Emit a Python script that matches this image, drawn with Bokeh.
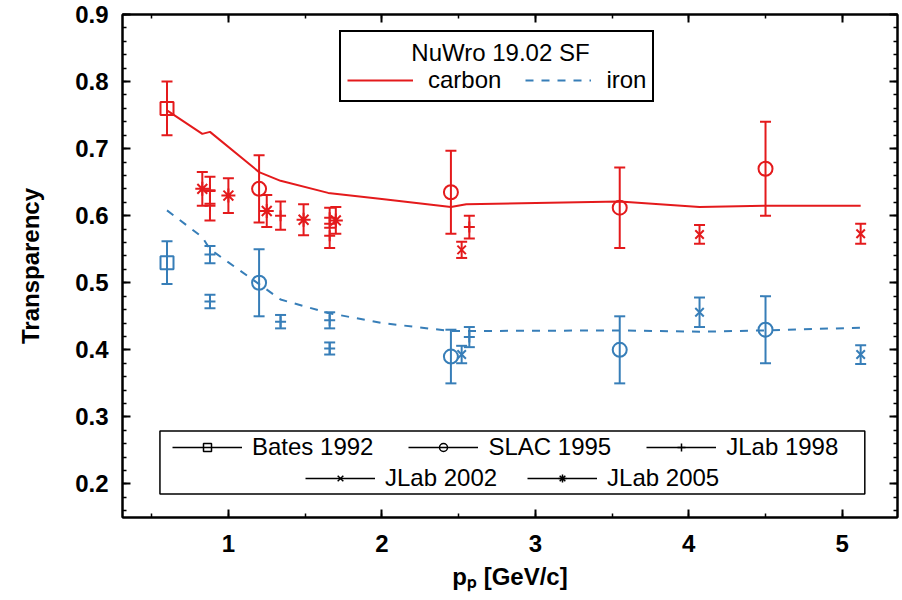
from bokeh.plotting import figure
from bokeh.models import (ColumnDataSource, Whisker, TeeHead, Range1d, LinearAxis,
                          SingleIntervalTicker, CustomJSTickFormatter, Legend, LegendItem,
                          BoxAnnotation, Label)
from bokeh.embed import file_html
from bokeh.resources import INLINE

# ---------------- data ----------------
# NuWro 19.02 SF predictions
nuwro_p = [0.6, 0.83, 0.88, 1.2, 1.34, 1.65, 2.0, 2.45, 2.55, 3.55, 4.07, 4.5, 5.12]
nuwro_carbon = [0.757, 0.722, 0.725, 0.665, 0.652, 0.634, 0.625, 0.613, 0.617, 0.621, 0.613, 0.615, 0.615]
nuwro_iron = [0.608, 0.568, 0.550, 0.498, 0.475, 0.455, 0.440, 0.428, 0.428, 0.429, 0.427, 0.429, 0.433]

# Bates 1992
bates_p = [0.6]
bates_c = [0.76]
bates_c_err = [0.04]
bates_fe = [0.53]
bates_fe_err = [0.032]

# SLAC 1995
slac_p = [1.2, 2.45, 3.55, 4.5]
slac_c = [0.64, 0.635, 0.612, 0.67]
slac_c_err = [0.05, 0.062, 0.06, 0.07]
slac_fe = [0.50, 0.39, 0.40, 0.43]
slac_fe_err = [0.05, 0.04, 0.05, 0.05]

# JLab 1998
jlab98_p = [0.88, 0.88, 1.34, 1.66, 1.66, 2.57]
jlab98_c = [0.638, 0.615, 0.600, 0.597, 0.570, 0.583]
jlab98_c_err = [0.02, 0.022, 0.021, 0.015, 0.018, 0.017]
jlab98_fe = [0.542, 0.472, 0.442, 0.444, 0.402, 0.419]
jlab98_fe_err = [0.013, 0.010, 0.010, 0.012, 0.009, 0.015]

# JLab 2002
jlab02_p = [2.52, 4.07, 5.12]
jlab02_c = [0.549, 0.572, 0.573]
jlab02_c_err = [0.012, 0.014, 0.015]
jlab02_fe = [0.393, 0.456, 0.393]
jlab02_fe_err = [0.013, 0.022, 0.014]

# JLab 2005
jlab05_p = [0.83, 1.0, 1.25, 1.49, 1.70]
jlab05_c = [0.640, 0.630, 0.607, 0.594, 0.593]
jlab05_c_err = [0.025, 0.026, 0.024, 0.023, 0.020]

RED = "#e41a1c"
BLUE = "#377eb8"
FONT = "Liberation Sans"

p = figure(width=899, height=598,
           x_range=Range1d(0.31, 5.36), y_range=Range1d(0.15, 0.9),
           output_backend="svg", toolbar_location=None,
           min_border_left=122, min_border_top=14, min_border_right=2, min_border_bottom=81)
p.grid.visible = False
p.outline_line_color = "black"
p.outline_line_width = 2
p.outline_line_alpha = 1
p.background_fill_color = "white"
p.border_fill_color = "white"


def style_axis(ax, ticker, labels=True):
    ax.ticker = ticker
    ax.major_tick_in = 8
    ax.major_tick_out = 0
    ax.minor_tick_in = 4
    ax.minor_tick_out = 0
    ax.axis_line_width = 2
    ax.axis_line_color = "black"
    ax.major_tick_line_width = 2
    ax.minor_tick_line_width = 1.5
    if labels:
        ax.major_label_text_font = FONT
        ax.major_label_text_font_style = "bold"
        ax.major_label_text_font_size = "24px"
        ax.major_label_text_color = "black"
    else:
        ax.formatter = CustomJSTickFormatter(code="return ''")
        ax.major_label_standoff = 0
        ax.major_label_text_font_size = "1px"


xt = SingleIntervalTicker(interval=1, num_minor_ticks=2)
yt = SingleIntervalTicker(interval=0.1, num_minor_ticks=5)
style_axis(p.xaxis[0], xt)
style_axis(p.yaxis[0], yt)
p.xaxis[0].major_label_standoff = 17
p.xaxis[0].axis_label = "p\u209a [GeV/c]"
p.xaxis[0].axis_label_text_font = FONT
p.xaxis[0].axis_label_text_font_style = "bold"
p.xaxis[0].axis_label_text_font_size = "24px"
p.xaxis[0].axis_label_text_color = "black"
p.xaxis[0].axis_label_standoff = 8
p.yaxis[0].major_label_standoff = 14
p.yaxis[0].axis_label = "Transparency"
p.yaxis[0].axis_label_text_font = FONT
p.yaxis[0].axis_label_text_font_style = "bold"
p.yaxis[0].axis_label_text_font_size = "24px"
p.yaxis[0].axis_label_text_color = "black"
p.yaxis[0].axis_label_standoff = 28

top_ax = LinearAxis()
right_ax = LinearAxis()
style_axis(top_ax, SingleIntervalTicker(interval=1, num_minor_ticks=2), labels=False)
style_axis(right_ax, SingleIntervalTicker(interval=0.1, num_minor_ticks=5), labels=False)
p.add_layout(top_ax, "above")
p.add_layout(right_ax, "right")

# NuWro curves
lc = p.line(nuwro_p, nuwro_carbon, line_color=RED, line_width=2)
li = p.line(nuwro_p, nuwro_iron, line_color=BLUE, line_width=2, line_dash="8 8")


def add_set(xs, ys, errs, color, marker, size):
    src = ColumnDataSource(dict(x=xs, y=ys,
                                lo=[v - e for v, e in zip(ys, errs)],
                                hi=[v + e for v, e in zip(ys, errs)]))
    p.add_layout(Whisker(source=src, base="x", upper="hi", lower="lo", dimension="height",
                         line_color=color, line_width=2,
                         upper_head=TeeHead(size=11, line_color=color, line_width=2),
                         lower_head=TeeHead(size=11, line_color=color, line_width=2)))
    p.scatter("x", "y", source=src, marker=marker, size=size, fill_color=None,
              line_color=color, line_width=2)


add_set(bates_p, bates_c, bates_c_err, RED, "square", 13)
add_set(bates_p, bates_fe, bates_fe_err, BLUE, "square", 13)
add_set(slac_p, slac_c, slac_c_err, RED, "circle", 14)
add_set(slac_p, slac_fe, slac_fe_err, BLUE, "circle", 14)
add_set(jlab98_p, jlab98_c, jlab98_c_err, RED, "cross", 11)
add_set(jlab98_p, jlab98_fe, jlab98_fe_err, BLUE, "cross", 11)
add_set(jlab02_p, jlab02_c, jlab02_c_err, RED, "x", 12)
add_set(jlab02_p, jlab02_fe, jlab02_fe_err, BLUE, "x", 12)
add_set(jlab05_p, jlab05_c, jlab05_c_err, RED, "asterisk", 14)

# top legend (title drawn as a centred label)
top_leg = Legend(items=[LegendItem(label="carbon", renderers=[lc]),
                        LegendItem(label="iron", renderers=[li])],
                 title=" ", orientation="horizontal",
                 location=(217, 415), padding=6, spacing=24, margin=0,
                 glyph_width=66, glyph_height=20, label_standoff=15, label_height=24,
                 label_text_font=FONT, label_text_font_size="24px", label_text_color="black",
                 title_text_font=FONT, title_text_font_size="24px",
                 title_text_font_style="normal", title_standoff=0,
                 border_line_color="black", border_line_width=2.5, border_line_alpha=1,
                 background_fill_alpha=0)
p.add_layout(top_leg)
p.add_layout(Label(x=378, y=465, x_units="screen", y_units="screen", text="NuWro 19.02 SF",
                   text_font=FONT, text_font_size="24px", text_color="black",
                   text_align="center", text_baseline="middle", level="overlay"))

# bottom legend (black symbols)
NAN = float("nan")


def leg_item(label, marker):
    seg = p.segment(x0=[NAN], y0=[NAN], x1=[NAN], y1=[NAN], line_color="black", line_width=1.5)
    mk = p.scatter(x=[NAN], y=[NAN], marker=marker, size=9, fill_color=None,
                   line_color="black", line_width=1.5)
    return LegendItem(label=label, renderers=[seg, mk])


items1 = [leg_item("Bates 1992", "square"), leg_item("SLAC 1995", "circle"),
          leg_item("JLab 1998", "cross")]
items2 = [leg_item("JLab 2002", "x"), leg_item("JLab 2005", "asterisk")]

p.add_layout(BoxAnnotation(left=0.554, right=5.147, top=0.279, bottom=0.185,
                           fill_alpha=0, line_color="black", line_width=1.5, line_alpha=1))
for its, loc, sp in [(items1, (50, 56), 35), (items2, (183, 25), 30)]:
    p.add_layout(Legend(items=its, orientation="horizontal", location=loc,
                        padding=0, spacing=sp, margin=0, glyph_width=70, glyph_height=20,
                        label_standoff=10, label_height=24,
                        label_text_font=FONT, label_text_font_size="24px",
                        label_text_color="black",
                        border_line_alpha=0, background_fill_alpha=0))

open("out.html", "w").write(file_html(p, INLINE))
